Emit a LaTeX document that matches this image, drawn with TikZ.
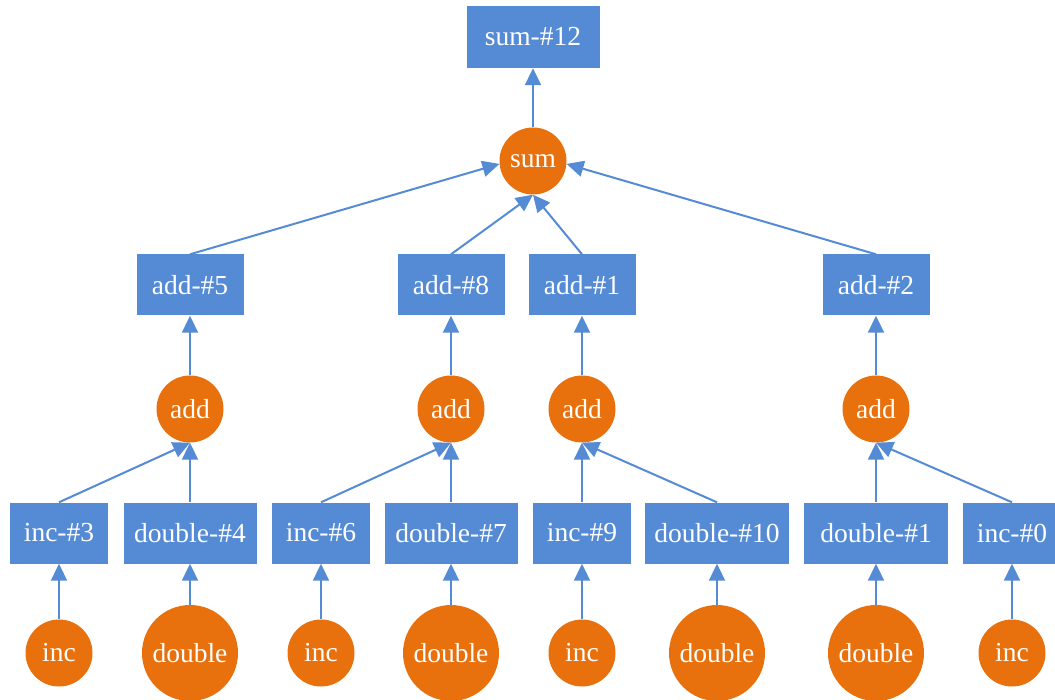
\documentclass[tikz,border=0pt]{standalone}
\usepackage{fontspec}
\setmainfont{Liberation Serif}
\usetikzlibrary{arrows.meta}
\definecolor{boxblue}{RGB}{85,139,213}
\definecolor{circorange}{RGB}{232,113,14}
\tikzset{
  opbox/.style={rectangle, fill=boxblue, text=white, inner sep=0pt, minimum height=61pt, font=\fontsize{27.5}{27.5}\selectfont},
  opcirc/.style={circle, fill=circorange, text=white, inner sep=0pt, minimum size=67pt, font=\fontsize{27.5}{27.5}\selectfont},
  bigcirc/.style={opcirc, minimum size=96pt},
  link/.style={draw=boxblue, line width=2pt, -{Triangle[length=17pt,width=16pt]}}
}
\begin{document}
\begin{tikzpicture}[x=1pt,y=-1pt]
\useasboundingbox (0,0) rectangle (1055,700);
% top
\node[opbox, minimum width=133pt, minimum height=62pt] (s12) at (533,37) {sum-\#12};
\node[opcirc] (sum) at (533,161) {sum};
% row 2
\node[opbox, minimum width=107pt] (a5) at (190,285) {add-\#5};
\node[opbox, minimum width=107pt] (a8) at (451,285) {add-\#8};
\node[opbox, minimum width=107pt] (a1) at (582,285) {add-\#1};
\node[opbox, minimum width=107pt] (a2) at (876,285) {add-\#2};
% add circles
\node[opcirc] (c5) at (190,409) {add};
\node[opcirc] (c8) at (451,409) {add};
\node[opcirc] (c1) at (582,409) {add};
\node[opcirc] (c2) at (876,409) {add};
% row 4
\node[opbox, minimum width=98pt] (i3) at (59,533) {inc-\#3};
\node[opbox, minimum width=133pt] (d4) at (190,533) {double-\#4};
\node[opbox, minimum width=98pt] (i6) at (321,533) {inc-\#6};
\node[opbox, minimum width=133pt] (d7) at (451,533) {double-\#7};
\node[opbox, minimum width=98pt] (i9) at (582,533) {inc-\#9};
\node[opbox, minimum width=144pt] (d10) at (717,533) {double-\#10};
\node[opbox, minimum width=144pt] (d1) at (876,533) {double-\#1};
\node[opbox, minimum width=98pt] (i0) at (1012,533) {inc-\#0};
% bottom circles
\node[opcirc] (bi3) at (59,653) {inc};
\node[bigcirc] (bd4) at (190,653) {double};
\node[opcirc] (bi6) at (321,653) {inc};
\node[bigcirc] (bd7) at (451,653) {double};
\node[opcirc] (bi9) at (582,653) {inc};
\node[bigcirc] (bd10) at (717,653) {double};
\node[bigcirc] (bd1) at (876,653) {double};
\node[opcirc] (bi0) at (1012,653) {inc};
% edges
\draw[link] (sum) -- (s12);
\draw[link] (a5.north) -- (sum.185);
\draw[link] (a8.north) -- (sum.south);
\draw[link] (a1.north) -- (sum.south);
\draw[link] (a2.north) -- (sum.355);
\draw[link] (c5) -- (a5);
\draw[link] (c8) -- (a8);
\draw[link] (c1) -- (a1);
\draw[link] (c2) -- (a2);
\draw[link] (i3.north) -- (c5.south);
\draw[link] (d4.north) -- (c5.south);
\draw[link] (i6.north) -- (c8.south);
\draw[link] (d7.north) -- (c8.south);
\draw[link] (i9.north) -- (c1.south);
\draw[link] (d10.north) -- (c1.south);
\draw[link] (d1.north) -- (c2.south);
\draw[link] (i0.north) -- (c2.south);
\draw[link] (bi3) -- (i3);
\draw[link] (bd4) -- (d4);
\draw[link] (bi6) -- (i6);
\draw[link] (bd7) -- (d7);
\draw[link] (bi9) -- (i9);
\draw[link] (bd10) -- (d10);
\draw[link] (bd1) -- (d1);
\draw[link] (bi0) -- (i0);
\end{tikzpicture}
\end{document}
